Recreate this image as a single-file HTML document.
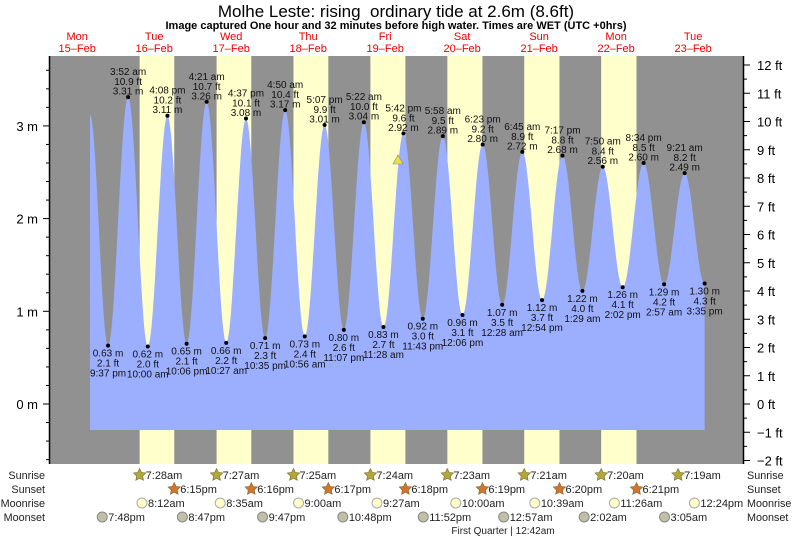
<!DOCTYPE html>
<html><head><meta charset="utf-8"><style>
html,body{margin:0;padding:0;background:#fff;}
svg{display:block;font-family:"Liberation Sans",Arial,sans-serif;}
</style></head><body>
<svg id="s" width="793" height="537" viewBox="0 0 793 537" xmlns="http://www.w3.org/2000/svg"></svg>
<script>
const S=document.getElementById('s');let h='';
const X=t=>38.7+3.208*t;const Y=m=>404-92.7*m;
const P=(hh,mm)=>hh+mm/60;
h+='<rect x="50" y="56" width="693" height="408" fill="#919191"/>';
const sr=[[7,28],[7,27],[7,25],[7,24],[7,23],[7,21],[7,20]],ss=[[18,15],[18,16],[18,17],[18,18],[18,19],[18,20],[18,21]];
for(let d=0;d<7;d++){const a=X(24*(d+1)+P(...sr[d])),b=X(24*(d+1)+P(...ss[d]));h+=`<rect x="${a}" y="56" width="${b-a}" height="408" fill="#ffffcc"/>`;}
const E=[[16,3.12],[P(21,37),0.63],[24+P(3,52),3.31],[24+P(10,0),0.62],[24+P(16,8),3.11],[24+P(22,6),0.65],[48+P(4,21),3.26],[48+P(10,27),0.66],[48+P(16,37),3.08],[48+P(22,35),0.71],[72+P(4,50),3.17],[72+P(10,56),0.73],[72+P(17,7),3.01],[72+P(23,7),0.80],[96+P(5,22),3.04],[96+P(11,28),0.83],[96+P(17,42),2.92],[96+P(23,43),0.92],[120+P(5,58),2.89],[120+P(12,6),0.96],[120+P(18,23),2.80],[144+P(0,28),1.07],[144+P(6,45),2.72],[144+P(12,54),1.12],[144+P(19,17),2.68],[168+P(1,29),1.22],[168+P(7,50),2.56],[168+P(14,2),1.26],[168+P(20,34),2.60],[192+P(2,57),1.29],[192+P(9,21),2.49],[192+P(15,35),1.30]];
let d='M'+X(16)+',430 ';
for(let i=0;i<E.length-1;i++){const [t0,v0]=E[i],[t1,v1]=E[i+1];for(let k=0;k<=20;k++){const f=k/20,t=t0+(t1-t0)*f,v=v0+(v1-v0)*(1-Math.cos(Math.PI*f))/2;d+='L'+X(t).toFixed(1)+','+Y(v).toFixed(1)+' ';}}
d+='L'+X(E[E.length-1][0])+',430Z';
h+=`<path d="${d}" fill="#9cafff"/>`;
const L=[["9:37 pm","2.1 ft","0.63 m"],["3:52 am","10.9 ft","3.31 m"],["10:00 am","2.0 ft","0.62 m"],["4:08 pm","10.2 ft","3.11 m"],["10:06 pm","2.1 ft","0.65 m"],["4:21 am","10.7 ft","3.26 m"],["10:27 am","2.2 ft","0.66 m"],["4:37 pm","10.1 ft","3.08 m"],["10:35 pm","2.3 ft","0.71 m"],["4:50 am","10.4 ft","3.17 m"],["10:56 am","2.4 ft","0.73 m"],["5:07 pm","9.9 ft","3.01 m"],["11:07 pm","2.6 ft","0.80 m"],["5:22 am","10.0 ft","3.04 m"],["11:28 am","2.7 ft","0.83 m"],["5:42 pm","9.6 ft","2.92 m"],["11:43 pm","3.0 ft","0.92 m"],["5:58 am","9.5 ft","2.89 m"],["12:06 pm","3.1 ft","0.96 m"],["6:23 pm","9.2 ft","2.80 m"],["12:28 am","3.5 ft","1.07 m"],["6:45 am","8.9 ft","2.72 m"],["12:54 pm","3.7 ft","1.12 m"],["7:17 pm","8.8 ft","2.68 m"],["1:29 am","4.0 ft","1.22 m"],["7:50 am","8.4 ft","2.56 m"],["2:02 pm","4.1 ft","1.26 m"],["8:34 pm","8.5 ft","2.60 m"],["2:57 am","4.2 ft","1.29 m"],["9:21 am","8.2 ft","2.49 m"],["3:35 pm","4.3 ft","1.30 m"]];
for(let i=1;i<E.length;i++){const x=X(E[i][0]),y=Y(E[i][1]),l=L[i-1],hi=E[i][1]>2;
h+=`<circle cx="${x}" cy="${y}" r="2" fill="#000"/>`;
const ta=`text-anchor="middle" font-size="10" fill="#111"`;
if(hi){h+=`<text x="${x}" y="${y-22}" ${ta}>${l[0]}</text><text x="${x}" y="${y-12}" ${ta}>${l[1]}</text><text x="${x}" y="${y-2.5}" ${ta}>${l[2]}</text>`;}
else{h+=`<text x="${x}" y="${y+11}" ${ta}>${l[2]}</text><text x="${x}" y="${y+21}" ${ta}>${l[1]}</text><text x="${x}" y="${y+31}" ${ta}>${l[0]}</text>`;}}
h+='<polygon points="398,155 393,164 403,164" fill="#e8e040" stroke="#888" stroke-width="0.6"/>';
h+='<line x1="49.5" y1="56" x2="49.5" y2="464" stroke="#000" stroke-width="1.5"/><line x1="743.5" y1="56" x2="743.5" y2="464" stroke="#000" stroke-width="1.5"/>';
for(let m=-0.6;m<=3.8;m+=0.2){const y=Y(m);if(y<56||y>464)continue;const maj=Math.abs(m-Math.round(m))<0.01;h+=`<line x1="${maj?43:46}" y1="${y}" x2="49" y2="${y}" stroke="#000"/>`;if(maj)h+=`<text x="38" y="${y+5}" text-anchor="end" font-size="13">${Math.round(m)} m</text>`;}
for(let f=-2;f<=12.5;f+=0.5){const y=404-28.25*f;if(y<56||y>464)continue;const maj=f%1==0;h+=`<line x1="744" y1="${y}" x2="${maj?750:747}" y2="${y}" stroke="#000"/>`;if(maj)h+=`<text x="757" y="${y+5}" font-size="13">${f<0?'\u2212'+(-f):f} ft</text>`;}
h+='<text x="396" y="17" text-anchor="middle" font-size="17" style="white-space:pre">Molhe Leste: rising\u00a0 ordinary tide at 2.6m (8.6ft)</text>';
h+='<text x="396" y="29" text-anchor="middle" font-size="11" font-weight="bold">Image captured One hour and 32 minutes before high water. Times are WET (UTC +0hrs)</text>';
const dn=[["Mon","15"],["Tue","16"],["Wed","17"],["Thu","18"],["Fri","19"],["Sat","20"],["Sun","21"],["Mon","22"],["Tue","23"]];
dn.forEach((v,i)=>{const x=X(24*i+12);h+=`<text x="${x}" y="40" text-anchor="middle" font-size="11" fill="#e00">${v[0]}</text><text x="${x}" y="52" text-anchor="middle" font-size="11" fill="#e00">${v[1]}\u2013Feb</text>`;});
const rows=[["Sunrise",479],["Sunset",493],["Moonrise",507],["Moonset",521]];
rows.forEach(r=>{h+=`<text x="45" y="${r[1]}" text-anchor="end" font-size="10.8" fill="#222">${r[0]}</text><text x="747" y="${r[1]}" font-size="10.8" fill="#222">${r[0]}</text>`;});
function star(x,y,c){let p='';for(let k=0;k<10;k++){const a=-Math.PI/2+k*Math.PI/5,r=k%2?3.2:6.5;p+=(x+r*Math.cos(a)).toFixed(1)+','+(y+r*Math.sin(a)).toFixed(1)+' ';}return `<polygon points="${p}" fill="${c}" stroke="#7a6a30" stroke-width="0.6"/>`;}
const srt=["7:28am","7:27am","7:25am","7:24am","7:23am","7:21am","7:20am","7:19am"];
srt.forEach((s,i)=>{const [hh,mm]=s.replace('am','').split(':').map(Number);const x=X(24*(i+1)+P(hh,mm));h+=star(x,475,"#b0a838")+`<text x="${x+6}" y="479" font-size="11" fill="#222">${s}</text>`;});
ss.forEach((s,i)=>{const x=X(24*(i+1)+P(...s));h+=star(x,489,"#d4742c")+`<text x="${x+6}" y="493" font-size="11" fill="#222">6:${s[1]}pm</text>`;});
const mr=[[8,12,"8:12am"],[8,35,"8:35am"],[9,0,"9:00am"],[9,27,"9:27am"],[10,0,"10:00am"],[10,39,"10:39am"],[11,26,"11:26am"],[12,24,"12:24pm"]];
mr.forEach((m,i)=>{const x=X(24*(i+1)+P(m[0],m[1]));h+=`<circle cx="${x}" cy="503" r="5" fill="#ffffc8" stroke="#aaa"/><text x="${x+6}" y="507" font-size="11" fill="#222">${m[2]}</text>`;});
const ms=[[19+48/60,"7:48pm"],[24+20+47/60,"8:47pm"],[48+21+47/60,"9:47pm"],[72+22+48/60,"10:48pm"],[96+23+52/60,"11:52pm"],[144+57/60,"12:57am"],[168+2+2/60,"2:02am"],[192+3+5/60,"3:05am"]];
ms.forEach(m=>{const x=X(m[0]);h+=`<circle cx="${x}" cy="517" r="5" fill="#c0c0a8" stroke="#888"/><text x="${x+6}" y="521" font-size="11" fill="#222">${m[1]}</text>`;});
h+='<text x="503" y="534" text-anchor="middle" font-size="10" fill="#222">First Quarter | 12:42am</text>';
S.innerHTML=h;
</script>
</body></html>
